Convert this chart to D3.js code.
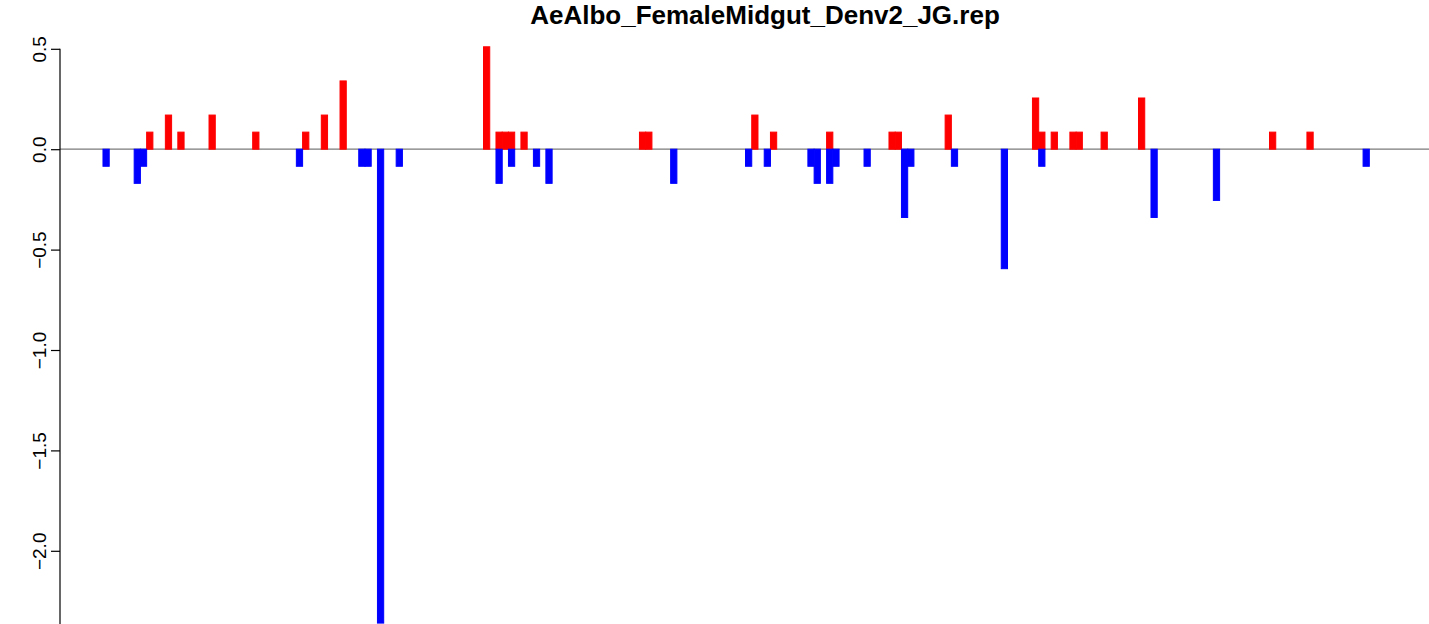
<!DOCTYPE html>
<html>
<head>
<meta charset="utf-8">
<script src="https://cdn.jsdelivr.net/npm/d3@7"></script>
<style>
  html, body { margin: 0; padding: 0; background: #fff; }
  svg { display: block; font-family: "Liberation Sans", Arial, Helvetica, sans-serif; }
</style>
</head>
<body>
<svg id="chart" width="1429" height="624"></svg>
<script>
const title = "AeAlbo_FemaleMidgut_Denv2_JG.rep";

// slot indices (categories) and values for the positive (red) series
const redSlots  = [7, 10, 12, 17, 24, 32, 35, 38, 61, 63, 64, 65, 67, 86, 87, 104, 107, 116, 126, 127, 135, 149, 150, 152, 155, 156, 160, 166, 187, 193];
const redValues = [0.085, 0.17, 0.085, 0.17, 0.085, 0.085, 0.17, 0.34, 0.51, 0.085, 0.085, 0.085, 0.085, 0.085, 0.085, 0.17, 0.085, 0.085, 0.085, 0.085, 0.17, 0.255, 0.085, 0.085, 0.085, 0.085, 0.085, 0.255, 0.085, 0.085];

// slot indices (categories) and values for the negative (blue) series
const blueSlots  = [0, 5, 6, 31, 41, 42, 44, 47, 63, 65, 69, 71, 91, 103, 106, 113, 114, 116, 117, 122, 128, 129, 136, 144, 150, 168, 178, 202];
const blueValues = [-0.085, -0.17, -0.085, -0.085, -0.085, -0.085, -2.36, -0.085, -0.17, -0.085, -0.085, -0.17, -0.17, -0.085, -0.085, -0.085, -0.17, -0.17, -0.085, -0.085, -0.34, -0.085, -0.085, -0.595, -0.085, -0.34, -0.255, -0.085];

const yTicks = [0.5, 0.0, -0.5, -1.0, -1.5, -2.0];
const yTickLabels = ["0.5", "0.0", "\u22120.5", "\u22121.0", "\u22121.5", "\u22122.0"];

const svg = d3.select("#chart");
const W = 1429, H = 624;
const plot = { left: 60, right: 1470, top: 48.8, bottom: 550.8 };

// x: slot index domain (R-style padded range)
const x = d3.scaleLinear().domain([-6.89, 219.14]).range([plot.left, plot.right]);
const y = d3.scaleLinear().domain([0.5, -2.0]).range([plot.top, plot.bottom]);

svg.append("defs").append("clipPath").attr("id", "clip")
  .append("rect").attr("x", plot.left).attr("y", 0).attr("width", W - plot.left).attr("height", H);

const g = svg.append("g").attr("clip-path", "url(#clip)");

// zero reference line
g.append("line")
  .attr("x1", plot.left).attr("x2", W)
  .attr("y1", y(0)).attr("y2", y(0))
  .attr("stroke", "#7a7a7a").attr("stroke-width", 1.2);

const red = redSlots.map((s, i) => ({ s, v: redValues[i] }));
const blue = blueSlots.map((s, i) => ({ s, v: blueValues[i] }));

function drawBars(data, color) {
  g.selectAll(null).data(data).enter().append("rect")
    .attr("x", d => x(d.s))
    .attr("width", d => x(d.s + 1) - x(d.s))
    .attr("y", d => Math.min(y(d.v), y(0)))
    .attr("height", d => Math.abs(y(d.v) - y(0)))
    .attr("fill", color)
    .attr("stroke", color)
    .attr("stroke-width", 1);
}
drawBars(red, "#ff0000");
drawBars(blue, "#0000ff");

// y axis
const axis = d3.axisLeft(y).tickValues(yTicks).tickSize(9)
  .tickFormat((d, i) => yTickLabels[i]);
const ax = svg.append("g").attr("transform", `translate(${plot.left},0)`).call(axis);
ax.select(".domain").attr("d", `M0,${y(0.5)}V${H + 10}`).attr("stroke", "#000").attr("stroke-width", 1.2);
ax.selectAll(".tick line").attr("stroke", "#000").attr("stroke-width", 1.2);
ax.selectAll(".tick text")
  .attr("font-size", 19)
  .attr("fill", "#000")
  .attr("dy", "0")
  .attr("transform", "rotate(-90)")
  .attr("x", 0).attr("y", -14)
  .attr("text-anchor", "middle");

// title
svg.append("text")
  .attr("x", (plot.left + plot.right) / 2)
  .attr("y", 23.8)
  .attr("text-anchor", "middle")
  .attr("font-weight", "bold")
  .attr("font-size", 26)
  .text(title);
</script>
</body>
</html>
